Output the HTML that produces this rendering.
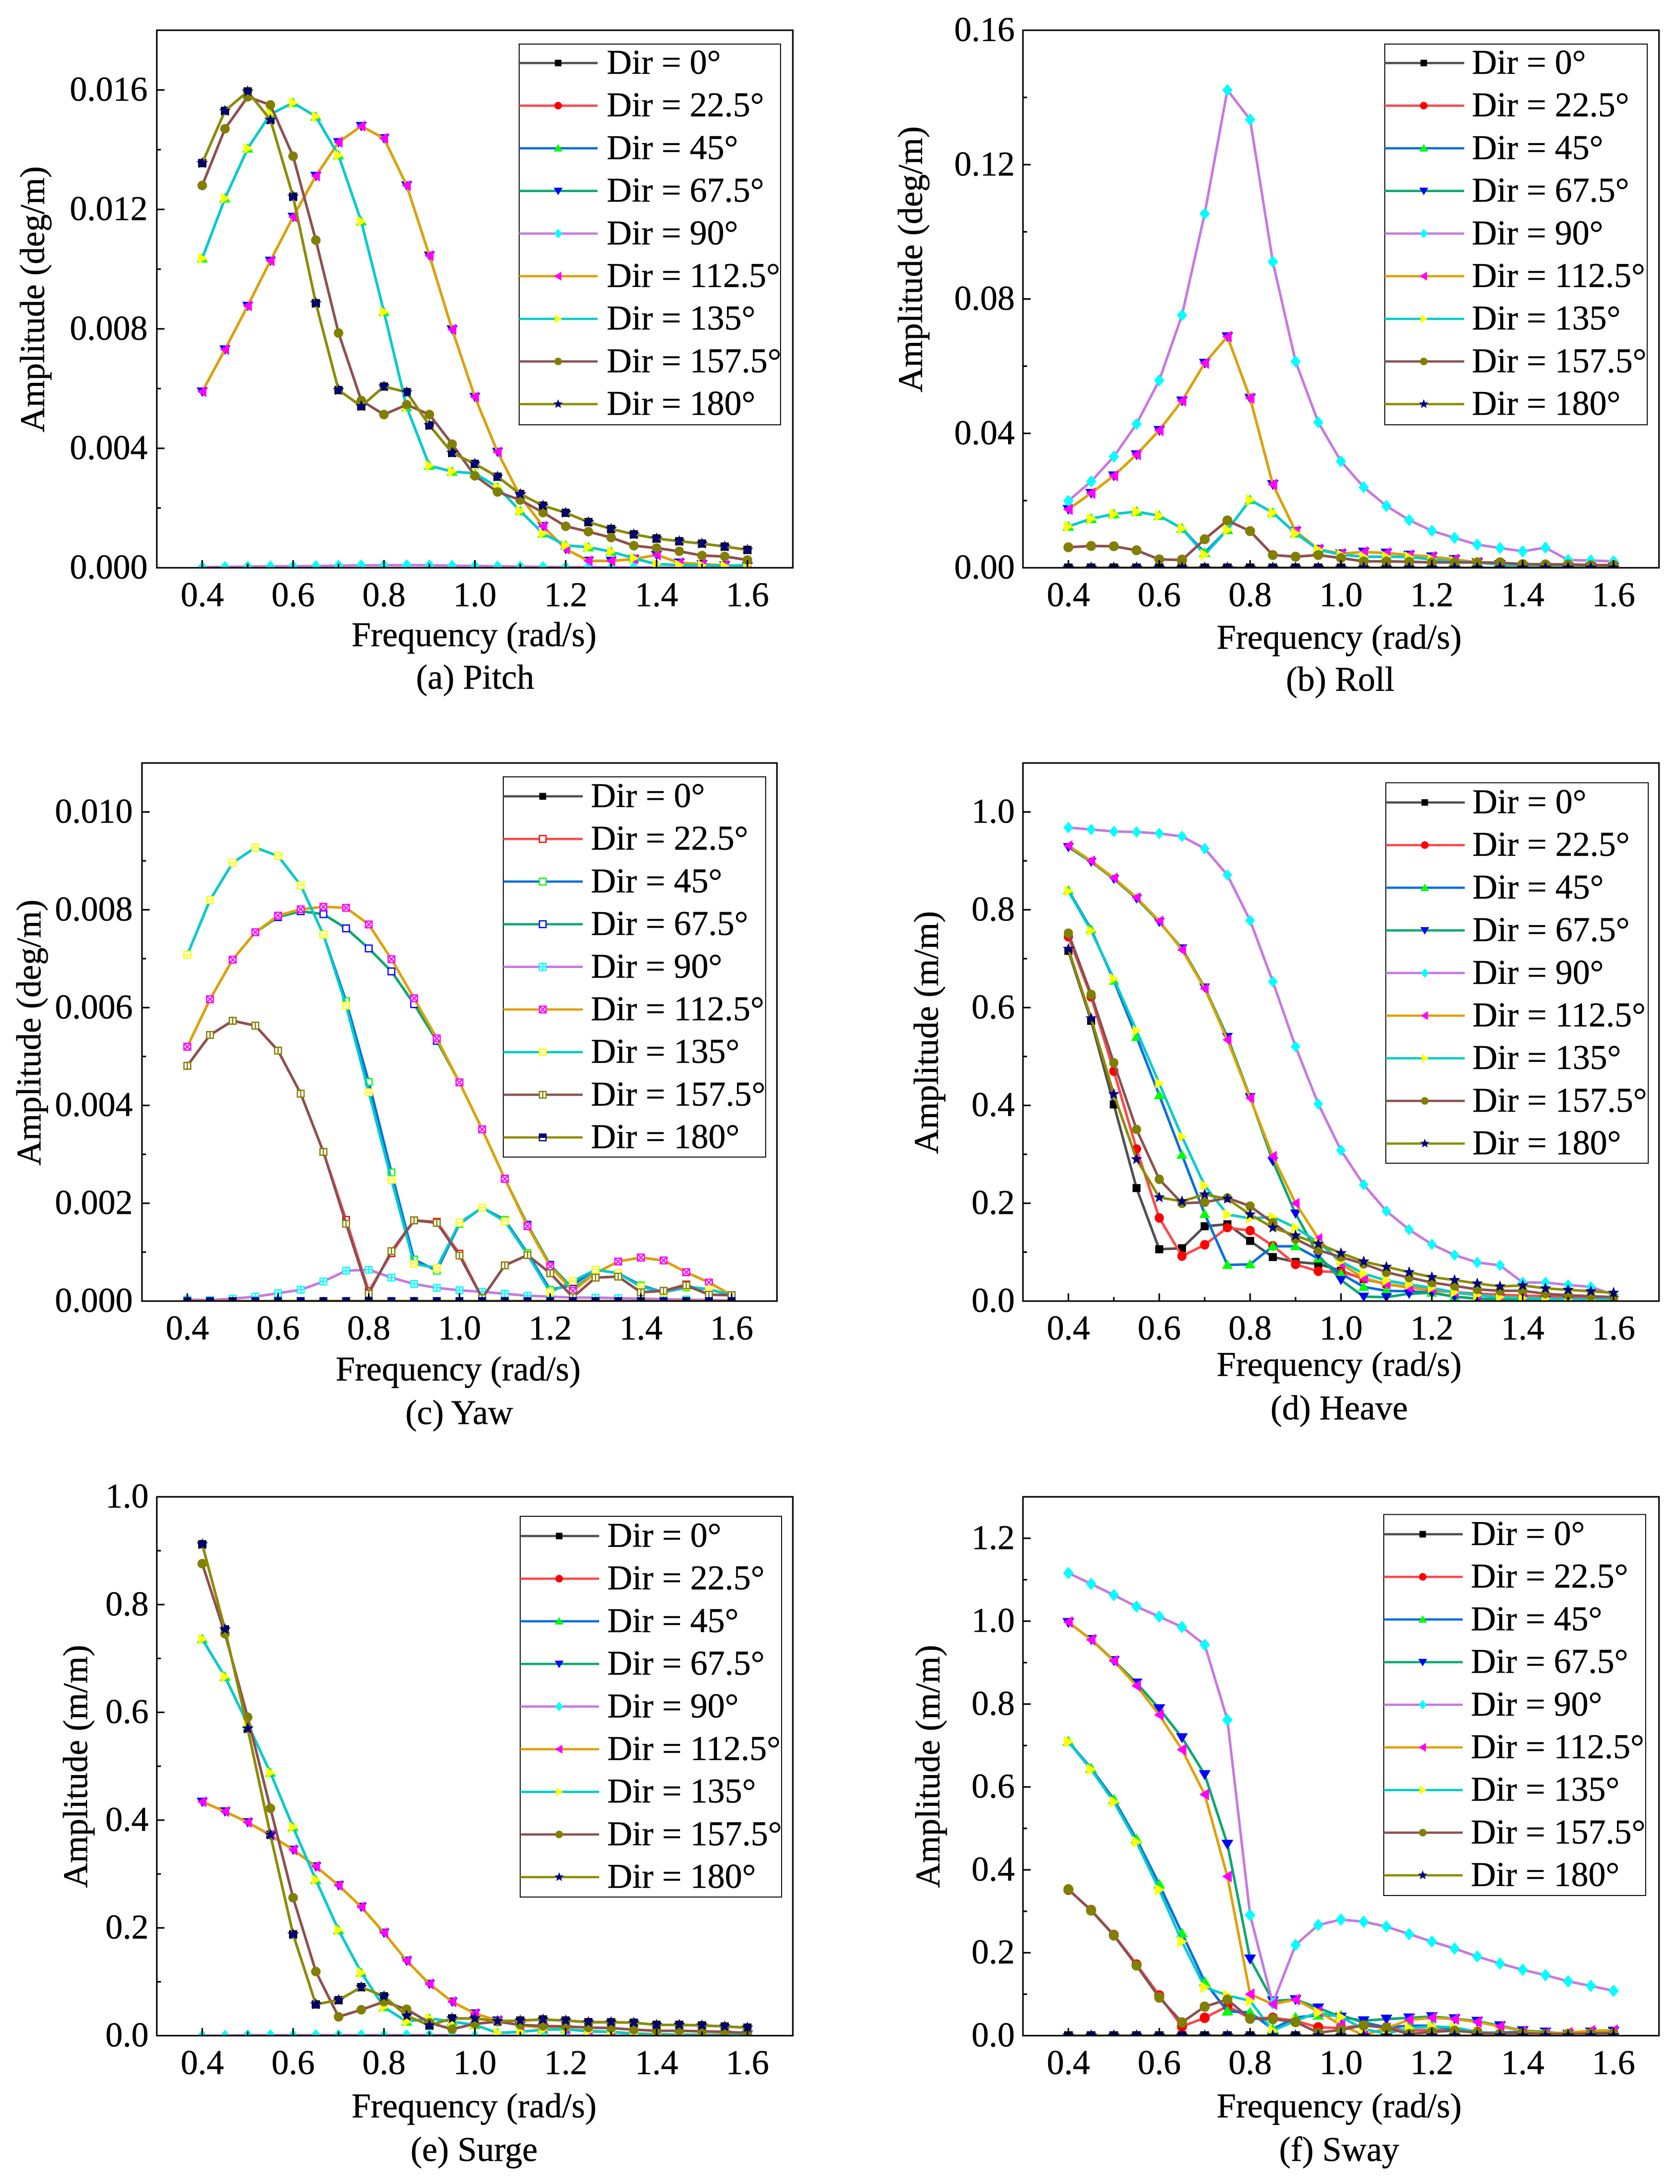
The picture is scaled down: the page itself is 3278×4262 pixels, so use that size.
<!DOCTYPE html>
<html lang="en">
<head>
<meta charset="utf-8">
<title>Motion response amplitude by wave direction</title>
<style>
html,body{margin:0;padding:0;background:#fff;}
svg{display:block;}
text{font-family:"Liberation Serif",serif;font-size:67.5px;fill:#000;stroke:#000;stroke-width:0.5px;}
.mid{text-anchor:middle;}
</style>
</head>
<body>
<svg id="figure" xmlns="http://www.w3.org/2000/svg" width="3278" height="4262" viewBox="0 0 3278 4262">
<rect x="0" y="0" width="3278" height="4262" fill="#ffffff"/>
<g id="panel-pitch">
<text class="mid" x="925" y="1261">Frequency (rad/s)</text>
<text class="mid" x="927" y="1344">(a) Pitch</text>
<text class="mid" transform="translate(86 584) rotate(-90)">Amplitude (deg/m)</text>
</g>
<g id="panel-roll">
<text class="mid" x="2613" y="1266">Frequency (rad/s)</text>
<text class="mid" x="2615" y="1348">(b) Roll</text>
<text class="mid" transform="translate(1799 506) rotate(-90)">Amplitude (deg/m)</text>
</g>
<g id="panel-yaw">
<text class="mid" x="894" y="2694">Frequency (rad/s)</text>
<text class="mid" x="896" y="2779">(c) Yaw</text>
<text class="mid" transform="translate(79 2015) rotate(-90)">Amplitude (deg/m)</text>
</g>
<g id="panel-heave">
<text class="mid" x="2613" y="2685">Frequency (rad/s)</text>
<text class="mid" x="2613" y="2770">(d) Heave</text>
<text class="mid" transform="translate(1830 2015) rotate(-90)">Amplitude (m/m)</text>
</g>
<g id="panel-surge">
<text class="mid" x="925" y="4132">Frequency (rad/s)</text>
<text class="mid" x="925" y="4217">(e) Surge</text>
<text class="mid" transform="translate(170 3447) rotate(-90)">Amplitude (m/m)</text>
</g>
<g id="panel-sway">
<text class="mid" x="2613" y="4132">Frequency (rad/s)</text>
<text class="mid" x="2613" y="4217">(f) Sway</text>
<text class="mid" transform="translate(1833 3447) rotate(-90)">Amplitude (m/m)</text>
</g>
</svg>
<script>
const frequencies = [0.4,0.45,0.5,0.55,0.6,0.65,0.7,0.75,0.8,0.85,0.9,0.95,1.0,1.05,1.1,1.15,1.2,1.25,1.3,1.35,1.4,1.45,1.5,1.55,1.6];
const xTickLabels = ['0.4','0.6','0.8','1.0','1.2','1.4','1.6'];
const directions = ['Dir = 0°','Dir = 22.5°','Dir = 45°','Dir = 67.5°','Dir = 90°','Dir = 112.5°','Dir = 135°','Dir = 157.5°','Dir = 180°'];

const pitchYTicks = ['0.000','0.004','0.008','0.012','0.016'];
const pitchDir0 = [.01355,.0153,.01595,.015,.01243,.00886,.00595,.00541,.00607,.00588,.00477,.00385,.00348,.00305,.00247,.00208,.00184,.00153,.0013,.00112,.00098,.00089,.00081,.00071,.0006];
const pitchDir22 = [.0128,.0147,.01577,.0155,.01378,.01097,.00786,.0056,.00513,.00546,.00513,.00414,.00308,.00254,.00227,.00185,.00139,.00121,.00101,.00074,.00066,.00055,.00041,.00038,.00026];
const pitchDir45 = [.01036,.01237,.01404,.01519,.01557,.01511,.01381,.0116,.00857,.00538,.00342,.00322,.00316,.0027,.0019,.00115,.00075,.00069,.00054,.00032,.00012,.00009,.00008,.00006,.00009];
const pitchDir67 = [.0059,.00731,.00877,.01028,.01175,.01312,.01425,.01479,.01438,.0128,.01045,.00798,.00572,.00388,.00239,.00139,.00063,.00023,.00023,.00029,.00043,.00017,.00012,.00008,.00005];
const pitchDir90 = [.00002,.00003,.00004,.00005,.00005,.00006,.00007,.00008,.00008,.00009,.00008,.00007,.00006,.00005,.00004,.00003,.00002,.00002,.00001,.00001,.00001,0,0,0,0];
const pitchDir112 = [.0059,.00731,.00877,.01028,.01175,.01312,.01425,.01479,.01438,.0128,.01045,.00798,.00572,.00388,.00239,.00139,.00063,.00023,.00023,.00029,.00043,.00017,.00012,.00008,.00005];
const pitchDir135 = [.01036,.01237,.01404,.01519,.01557,.01511,.01381,.0116,.00857,.00538,.00342,.00322,.00316,.0027,.0019,.00115,.00075,.00069,.00054,.00032,.00012,.00009,.00008,.00006,.00009];
const pitchDir157 = [.0128,.0147,.01577,.0155,.01378,.01097,.00786,.0056,.00513,.00546,.00513,.00414,.00308,.00254,.00227,.00185,.00139,.00121,.00101,.00074,.00066,.00055,.00041,.00038,.00026];
const pitchDir180 = [.01355,.0153,.01595,.015,.01243,.00886,.00595,.00541,.00607,.00588,.00477,.00385,.00348,.00305,.00247,.00208,.00184,.00153,.0013,.00112,.00098,.00089,.00081,.00071,.0006];

const rollYTicks = ['0.00','0.04','0.08','0.12','0.16'];
const rollDir0 = [0,0,0,0,0,0,0,0,0,0,0,0,0,0,0,0,0,0,0,0,0,0,0,0,0];
const rollDir22 = [.0061,.0065,.0064,.0052,.0025,.0023,.0085,.0141,.0109,.0038,.0033,.0038,.0029,.0019,.0019,.0018,.0016,.0016,.0016,.0015,.0011,.001,.001,.0008,.0008];
const rollDir45 = [.0123,.0146,.016,.0167,.0155,.0117,.0045,.0113,.0202,.0164,.0103,.0054,.0039,.0033,.0033,.0032,.0025,.0019,.0016,.001,.0004,.0003,.0002,.0002,.0002];
const rollDir67 = [.0174,.0222,.0274,.0337,.0409,.0497,.0609,.0688,.0505,.0248,.0109,.0055,.0042,.0047,.0044,.0038,.0033,.0025,.0016,.001,.0003,.0002,.0002,.0002,.0002];
const rollDir90 = [.0199,.0257,.0331,.0428,.0558,.0752,.1054,.1422,.1334,.0911,.0614,.0433,.0317,.024,.0184,.0142,.011,.0089,.0069,.0059,.0049,.006,.0023,.0022,.0019];
const rollDir112 = [.0174,.0222,.0274,.0337,.0409,.0497,.0609,.0688,.0505,.0248,.0109,.0055,.0042,.0047,.0044,.0038,.0033,.0025,.0016,.001,.0003,.0002,.0002,.0002,.0002];
const rollDir135 = [.0123,.0146,.016,.0167,.0155,.0117,.0039,.0113,.0202,.0164,.0103,.0054,.0039,.0033,.0033,.0032,.0025,.0019,.0016,.001,.0004,.0003,.0002,.0002,.0002];
const rollDir157 = [.0061,.0065,.0064,.0052,.0025,.0023,.0085,.0141,.0109,.0038,.0033,.0038,.0029,.0019,.0019,.0018,.0016,.0016,.0016,.0015,.0011,.001,.001,.0008,.0008];
const rollDir180 = [0,0,0,0,0,0,0,0,0,0,0,0,0,0,0,0,0,0,0,0,0,0,0,0,0];

const yawYTicks = ['0.000','0.002','0.004','0.006','0.008','0.010'];
const yawDir0 = [0,0,0,0,0,0,0,0,0,0,0,0,0,0,0,0,0,0,0,0,0,0,0,0,0];
const yawDir22 = [.00481,.00544,.00573,.00563,.00512,.00424,.00305,.00166,.0002,.00098,.00165,.00162,.00097,.00006,.00073,.00094,.00057,.00008,.00048,.0005,.00018,.00021,.00034,.00013,.00012];
const yawDir45 = [.00708,.0082,.00896,.00927,.0091,.0085,.00749,.00613,.00448,.00263,.00085,.00062,.00158,.00191,.00166,.00098,.00023,.00033,.00064,.00057,.00032,.00018,.00028,.00024,.00012];
const yawDir67 = [.0052,.00617,.00698,.00754,.00785,.00797,.00791,.00762,.00721,.00674,.00607,.00532,.00447,.00351,.0025,.00156,.00074,.00025,.00057,.00081,.00089,.00083,.00059,.00038,.00012];
const yawDir90 = [.00003,.00002,.00005,.00009,.00016,.00023,.0004,.00062,.00064,.00048,.00035,.00027,.00022,.00019,.00015,.00011,.00009,.00007,.00007,.00006,.00005,.00004,.00003,.00002,.00001];
const yawDir112 = [.0052,.00617,.00698,.00754,.00788,.00801,.00806,.00804,.0077,.00699,.00619,.00537,.00447,.00351,.0025,.00153,.00071,.00021,.00057,.00081,.00089,.00083,.00059,.00038,.00012];
const yawDir135 = [.00708,.0082,.00896,.00927,.0091,.0085,.00749,.00604,.00427,.00248,.00076,.00068,.0016,.00191,.00163,.00095,.00018,.00041,.00064,.00057,.00029,.00018,.0003,.00024,.00012];
const yawDir157 = [.00481,.00544,.00573,.00563,.00512,.00424,.00305,.00158,.00015,.00102,.00165,.0016,.00093,.00006,.00073,.00094,.00057,.00008,.00048,.0005,.00018,.00021,.00032,.00013,.00012];
const yawDir180 = [0,0,0,0,0,0,0,0,0,0,0,0,0,0,0,0,0,0,0,0,0,0,0,0,0];

const heaveYTicks = ['0.0','0.2','0.4','0.6','0.8','1.0'];
const heaveDir0 = [.716,.573,.402,.231,.106,.108,.153,.157,.123,.09,.08,.076,.062,.045,.035,.028,.022,.018,.014,.012,.01,.008,.007,.006,.005];
const heaveDir22 = [.745,.622,.47,.311,.17,.092,.115,.15,.144,.113,.075,.061,.059,.047,.034,.028,.022,.018,.015,.013,.011,.01,.008,.007,.006];
const heaveDir45 = [.84,.76,.655,.54,.421,.299,.178,.074,.075,.112,.112,.087,.056,.029,.021,.02,.017,.009,.005,.004,.003,.002,.002,.002,.002];
const heaveDir67 = [.928,.898,.863,.823,.775,.721,.641,.54,.417,.286,.179,.094,.043,.009,.008,.015,.017,.009,.005,.003,.002,.002,.002,.002,.002];
const heaveDir90 = [.968,.964,.96,.959,.956,.95,.925,.871,.778,.653,.52,.403,.308,.238,.184,.146,.116,.094,.079,.073,.038,.038,.033,.029,.013];
const heaveDir112 = [.931,.9,.865,.825,.777,.718,.639,.534,.415,.296,.2,.128,.076,.047,.035,.027,.025,.017,.012,.009,.007,.005,.004,.003,.003];
const heaveDir135 = [.838,.757,.659,.553,.445,.336,.236,.177,.169,.172,.15,.12,.081,.056,.042,.034,.027,.018,.012,.008,.006,.005,.004,.003,.003];
const heaveDir157 = [.752,.627,.487,.351,.249,.2,.202,.211,.194,.16,.127,.104,.09,.076,.059,.048,.038,.031,.024,.021,.021,.015,.012,.01,.008];
const heaveDir180 = [.72,.578,.423,.29,.212,.204,.218,.209,.177,.15,.134,.117,.098,.081,.07,.059,.049,.043,.036,.03,.032,.026,.023,.02,.017];

const surgeYTicks = ['0.0','0.2','0.4','0.6','0.8','1.0'];
const surgeDir0 = [.912,.754,.57,.373,.188,.058,.066,.09,.073,.037,.019,.032,.032,.027,.028,.03,.028,.025,.025,.024,.02,.02,.019,.017,.015];
const surgeDir22 = [.876,.746,.591,.422,.256,.119,.035,.048,.063,.049,.024,.012,.022,.026,.02,.018,.017,.015,.014,.011,.009,.009,.008,.007,.005];
const surgeDir45 = [.736,.666,.578,.488,.387,.289,.196,.117,.053,.026,.032,.026,.02,.005,.007,.011,.012,.008,.007,.003,.002,.002,.001,.001,.001];
const surgeDir67 = [.434,.416,.396,.372,.345,.314,.279,.239,.191,.139,.096,.063,.041,.028,.019,.015,.012,.009,.007,.004,.003,.002,.002,.002,.002];
const surgeDir90 = [0,0,.001,.001,.001,.001,.001,.001,.001,.001,.001,.001,0,0,0,0,0,0,0,0,0,0,0,0,0];
const surgeDir112 = [.434,.416,.396,.372,.345,.314,.279,.239,.191,.139,.096,.063,.041,.028,.019,.015,.012,.009,.007,.004,.003,.002,.002,.002,.002];
const surgeDir135 = [.736,.666,.578,.488,.387,.289,.196,.117,.053,.026,.032,.026,.02,.005,.007,.011,.012,.008,.007,.003,.002,.002,.001,.001,.001];
const surgeDir157 = [.876,.746,.591,.422,.256,.119,.035,.048,.063,.049,.024,.012,.022,.026,.02,.018,.017,.015,.014,.011,.009,.009,.008,.007,.005];
const surgeDir180 = [.912,.754,.57,.373,.188,.058,.066,.09,.073,.037,.019,.032,.032,.027,.028,.03,.028,.025,.025,.024,.02,.02,.019,.017,.015];

const swayYTicks = ['0.0','0.2','0.4','0.6','0.8','1.0','1.2'];
const swayDir0 = [0,0,0,0,0,0,0,0,0,0,0,0,0,0,0,0,0,0,0,0,0,0,0,0,0];
const swayDir22 = [.352,.303,.243,.172,.097,.022,.043,.071,.042,.043,.036,.02,.018,.026,.02,.012,.014,.014,.009,.005,.004,.004,.004,.005,.005];
const swayDir45 = [.71,.645,.57,.474,.365,.247,.13,.059,.056,.016,.044,.049,.049,.032,.02,.024,.024,.014,.007,.007,.009,.007,.005,.005,.005];
const swayDir67 = [.997,.956,.905,.851,.789,.719,.63,.462,.185,.084,.087,.067,.045,.036,.04,.043,.046,.041,.035,.024,.012,.009,.004,.009,.011];
const swayDir90 = [1.116,1.09,1.063,1.035,1.011,.986,.943,.762,.291,.078,.219,.267,.28,.275,.263,.245,.227,.21,.191,.174,.159,.146,.131,.12,.108];
const swayDir112 = [.998,.955,.904,.844,.774,.69,.582,.384,.1,.076,.087,.058,.026,.001,.018,.038,.043,.04,.033,.022,.011,.006,.007,.012,.013];
const swayDir135 = [.709,.642,.564,.467,.352,.227,.117,.097,.084,.012,.036,.056,.045,.016,.005,.018,.022,.02,.009,.005,.003,.002,.002,.002,.002];
const swayDir157 = [.353,.302,.242,.169,.092,.032,.07,.087,.041,.04,.033,.007,.014,.025,.019,.004,.009,.012,.007,.004,.006,.004,.004,.005,.005];
const swayDir180 = [0,0,0,0,0,0,0,0,0,0,0,0,0,0,0,0,0,0,0,0,0,0,0,0,0];

const lineColors = ['#505050','#ff4848','#0a6ee0','#0aa870','#c878e0','#e0a000','#00cccc','#8c5050','#8c8c00'];
const markerColors = ['#000000','#ff0000','#00ff00','#0000ff','#00ffff','#ff00ff','#ffff00','#808000','#000080'];
const solidMarkers = ['square','circle','up','down','diamond','left','right','circle','star'];
const openMarkers = ['solid','plain','plain','plain','plus','cross','hbar','vbar','half'];

const layouts = {
  pitch: {group:'panel-pitch', left:306, right:1547, top:59, bottom:1108, yMax:0.018, labelRight:288, scale:1.15, legend:{x:1013, r:1523, y:86, b:829, row0:123, step:83.2, lineEnd:1166, marker:1089, text:1184}},
  roll: {group:'panel-roll', left:1996, right:3237, top:59, bottom:1108, yMax:0.16, labelRight:1980, scale:1.2, legend:{x:2702, r:3214, y:86, b:829, row0:123, step:83.2, lineEnd:2857, marker:2778, text:2872}},
  yaw: {group:'panel-yaw', left:277, right:1516, top:1489, bottom:2539, yMax:0.011, labelRight:259, scale:1, legend:{x:982, r:1494, y:1516, b:2258, row0:1554, step:83.2, lineEnd:1137, marker:1059, text:1153}},
  heave: {group:'panel-heave', left:1996, right:3237, top:1489, bottom:2539, yMax:1.1, labelRight:1980, scale:1.12, legend:{x:2704, r:3216, y:1527.5, b:2270, row0:1566, step:83.2, lineEnd:2858, marker:2780, text:2873}},
  surge: {group:'panel-surge', left:306, right:1547, top:2921, bottom:3972.5, yMax:1.0, labelRight:290, scale:1.15, legend:{x:1015, r:1525, y:2959, b:3702, row0:2997.5, step:83.2, lineEnd:1169, marker:1091, text:1185}},
  sway: {group:'panel-sway', left:1996, right:3237, top:2921, bottom:3972.5, yMax:1.3, labelRight:1980, scale:1.22, legend:{x:2700, r:3211, y:2955.5, b:3699, row0:2994, step:83.2, lineEnd:2854, marker:2776, text:2870}}
};

const SVG_NS = 'http://www.w3.org/2000/svg';
const X_MIN = 0.3;
const X_MAX = 1.7;

function make(tag, parent, attrs) {
  const node = document.createElementNS(SVG_NS, tag);
  for (const key in attrs) { node.setAttribute(key, attrs[key]); }
  parent.appendChild(node);
  return node;
}
function xScale(box, v) { return box.left + (v - X_MIN) / (X_MAX - X_MIN) * (box.right - box.left); }
function yScale(box, v) { return box.bottom - v / box.yMax * (box.bottom - box.top); }

function markerPath(kind, cx, cy, k) {
  const f = function (n) { return n.toFixed(1); };
  const poly = function (pts) { return 'M' + pts.map(function (p) { return f(cx + p[0] * k) + ' ' + f(cy + p[1] * k); }).join('L') + 'Z'; };
  if (kind === 'square') return poly([[-7,-7],[7,-7],[7,7],[-7,7]]);
  if (kind === 'up') return poly([[0,-9],[9.5,7],[-9.5,7]]);
  if (kind === 'down') return poly([[0,9],[9.5,-7],[-9.5,-7]]);
  if (kind === 'left') return poly([[-8.5,0],[7,-9.5],[7,9.5]]);
  if (kind === 'right') return poly([[8.5,0],[-7,-9.5],[-7,9.5]]);
  if (kind === 'diamond') return poly([[0,-10],[8.5,0],[0,10],[-8.5,0]]);
  if (kind === 'circle') {
    const r = 8 * k;
    return 'M' + f(cx - r) + ' ' + f(cy) + 'A' + r + ' ' + r + ' 0 1 0 ' + f(cx + r) + ' ' + f(cy) + 'A' + r + ' ' + r + ' 0 1 0 ' + f(cx - r) + ' ' + f(cy) + 'Z';
  }
  const pts = [];
  for (let i = 0; i < 10; i++) {
    const rad = i % 2 === 0 ? 10.5 : 4.4;
    const ang = -Math.PI / 2 + i * Math.PI / 5;
    pts.push([rad * Math.cos(ang), rad * Math.sin(ang)]);
  }
  return poly(pts);
}

function openMarkerPath(kind, cx, cy) {
  const h = 6.5;
  let d = 'M' + (cx - h) + ' ' + (cy - h) + 'H' + (cx + h) + 'V' + (cy + h) + 'H' + (cx - h) + 'Z';
  if (kind === 'plus' || kind === 'hbar') d += 'M' + (cx - h) + ' ' + cy + 'H' + (cx + h);
  if (kind === 'plus' || kind === 'vbar') d += 'M' + cx + ' ' + (cy - h) + 'V' + (cy + h);
  if (kind === 'cross') d += 'M' + (cx - h) + ' ' + (cy - h) + 'L' + (cx + h) + ' ' + (cy + h) + 'M' + (cx + h) + ' ' + (cy - h) + 'L' + (cx - h) + ' ' + (cy + h);
  return d;
}

function drawMarker(parent, useOpen, index, cx, cy, k) {
  const color = markerColors[index];
  const style = openMarkers[index];
  if (useOpen && style !== 'solid') {
    const open = make('path', parent, {d: openMarkerPath(style, cx, cy), fill: '#ffffff', stroke: color, 'stroke-width': 2.4});
    
    
    if (style === 'half') {
      const top = make('rect', parent, {x: cx - 7, y: cy - 7, width: 14, height: 8, fill: color});
      
      
    }
    return;
  }
  const kind = useOpen ? 'square' : solidMarkers[index];
  const solid = make('path', parent, {d: markerPath(kind, cx, cy, useOpen ? 0.95 : k), fill: color});
  
  
}

function drawTick(parent, x1, y1, x2, y2, name) {
  const tick = make('line', parent, {x1: x1, y1: y1, x2: x2, y2: y2, stroke: '#000000', 'stroke-width': 3});
  
  
}

function drawPanel(prefix, box, seriesList, yTicks, useOpen) {
  const group = document.getElementById(box.group);
  const defs = make('defs', group, {});
  const clip = make('clipPath', defs, {id: prefix + '-clip'});
  make('rect', clip, {x: box.left, y: box.top, width: box.right - box.left, height: box.bottom - box.top});

  const plot = make('g', group, {'clip-path': 'url(#' + prefix + '-clip)'});
  
  

  seriesList.forEach(function (values, s) {
    const seriesGroup = make('g', plot, {});
    
    
    const d = values.map(function (v, i) {
      return (i ? 'L' : 'M') + xScale(box, frequencies[i]).toFixed(1) + ' ' + yScale(box, v).toFixed(1);
    }).join('');
    const path = make('path', seriesGroup, {d: d, fill: 'none', stroke: lineColors[s], 'stroke-width': 5, 'stroke-linejoin': 'round'});
    
    
    values.forEach(function (v, i) {
      drawMarker(seriesGroup, useOpen, s, xScale(box, frequencies[i]), yScale(box, v), box.scale);
    });
  });

  const axes = make('g', group, {});
  
  
  const frame = make('rect', axes, {x: box.left, y: box.top, width: box.right - box.left, height: box.bottom - box.top, fill: 'none', stroke: '#000000', 'stroke-width': 3});
  
  

  xTickLabels.forEach(function (label, i) {
    const v = Number(label);
    const px = xScale(box, v);
    drawTick(axes, px, box.bottom, px, box.bottom - 15, prefix + '-x-tick');
    const minorPx = xScale(box, v + 0.1);
    drawTick(axes, minorPx, box.bottom, minorPx, box.bottom - 8, prefix + '-x-minor-tick');
    const t = make('text', axes, {x: px, y: box.bottom + 75, 'text-anchor': 'middle'});
    
    
    t.textContent = label;
  });

  yTicks.forEach(function (label) {
    const v = Number(label);
    const py = yScale(box, v);
    drawTick(axes, box.left, py, box.left + 15, py, prefix + '-y-tick');
    const t = make('text', axes, {x: box.labelRight, y: py + 21, 'text-anchor': 'end'});
    
    
    t.textContent = label;
  });
  const step = Number(yTicks[1]) - Number(yTicks[0]);
  yTicks.forEach(function (label) {
    const v = Number(label) + step / 2;
    if (v < box.yMax * 0.999) {
      const py = yScale(box, v);
      drawTick(axes, box.left, py, box.left + 8, py, prefix + '-y-minor-tick');
    }
  });

  const lg = box.legend;
  const legend = make('g', group, {});
  
  
  const legendBox = make('rect', legend, {x: lg.x, y: lg.y, width: lg.r - lg.x, height: lg.b - lg.y, fill: '#ffffff', stroke: '#111111', 'stroke-width': 2});
  
  
  directions.forEach(function (label, s) {
    const rowY = lg.row0 + s * lg.step;
    const entry = make('g', legend, {});
    
    
    const sample = make('line', entry, {x1: lg.x, y1: rowY, x2: lg.lineEnd, y2: rowY, stroke: lineColors[s], 'stroke-width': 4.5});
    
    
    drawMarker(entry, useOpen, s, lg.marker, rowY, 0.92);
    const t = make('text', entry, {x: lg.text, y: rowY + 21});
    
    
    t.textContent = label;
  });
}

drawPanel('pitch', layouts.pitch, [pitchDir0,pitchDir22,pitchDir45,pitchDir67,pitchDir90,pitchDir112,pitchDir135,pitchDir157,pitchDir180], pitchYTicks, false);
drawPanel('roll', layouts.roll, [rollDir0,rollDir22,rollDir45,rollDir67,rollDir90,rollDir112,rollDir135,rollDir157,rollDir180], rollYTicks, false);
drawPanel('yaw', layouts.yaw, [yawDir0,yawDir22,yawDir45,yawDir67,yawDir90,yawDir112,yawDir135,yawDir157,yawDir180], yawYTicks, true);
drawPanel('heave', layouts.heave, [heaveDir0,heaveDir22,heaveDir45,heaveDir67,heaveDir90,heaveDir112,heaveDir135,heaveDir157,heaveDir180], heaveYTicks, false);
drawPanel('surge', layouts.surge, [surgeDir0,surgeDir22,surgeDir45,surgeDir67,surgeDir90,surgeDir112,surgeDir135,surgeDir157,surgeDir180], surgeYTicks, false);
drawPanel('sway', layouts.sway, [swayDir0,swayDir22,swayDir45,swayDir67,swayDir90,swayDir112,swayDir135,swayDir157,swayDir180], swayYTicks, false);
</script>
</body>
</html>
